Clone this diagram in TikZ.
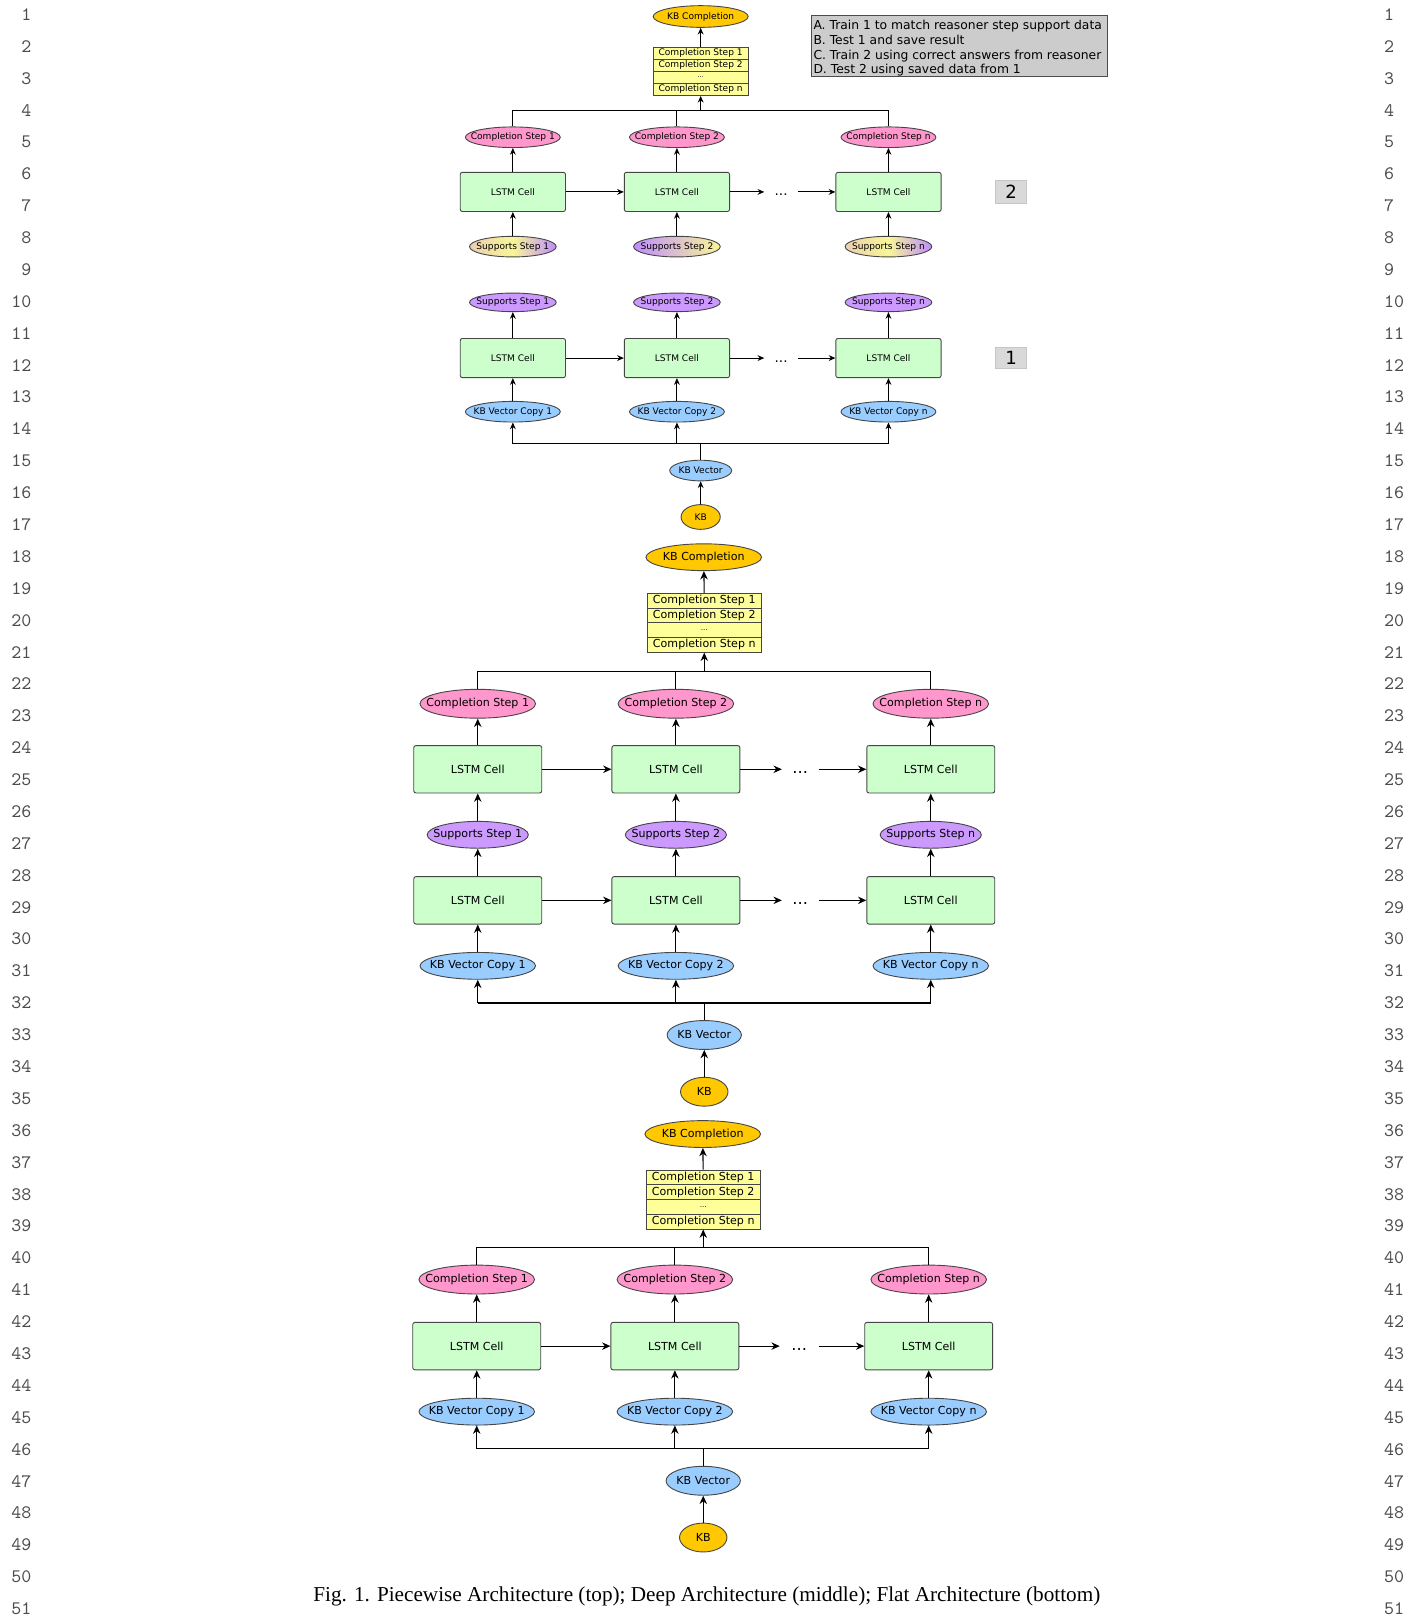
\documentclass[tikz,border=0pt]{standalone}
\usepackage{fontspec}
\setsansfont{DejaVu Sans}
\newfontfamily\capfont{Liberation Serif}
\usetikzlibrary{positioning,shapes.geometric,arrows.meta}
\definecolor{kbgold}{RGB}{255,200,0}
\definecolor{steppink}{RGB}{255,150,204}
\definecolor{suplilac}{RGB}{204,153,255}
\definecolor{vecblue}{RGB}{153,204,255}
\definecolor{cellgreen}{RGB}{204,255,204}
\definecolor{rowyellow}{RGB}{255,255,153}
\definecolor{edgegray}{RGB}{70,70,70}
\definecolor{legendgray}{RGB}{204,204,204}
\definecolor{suptan}{RGB}{236,206,176}
\definecolor{supyellow}{RGB}{248,246,150}
\definecolor{supviolet}{RGB}{192,140,255}
\newdimen\upx
\upx=0.02cm
\newcommand\zw[1]{\makebox[0pt]{#1}}
\tikzset{
  every node/.style={inner sep=0pt},
  wh/.style 2 args={minimum width=#1*\upx, minimum height=#2*\upx},
  oval/.style={ellipse, draw=edgegray, line width=0.5pt},
  kb/.style={oval, fill=kbgold},
  cstep/.style={oval, fill=steppink},
  sstep/.style={oval, fill=suplilac},
  kbvec/.style={oval, fill=vecblue},
  cell/.style={rectangle, draw=edgegray, fill=cellgreen, rounded corners=1.2pt, line width=0.5pt},
  row/.style={rectangle, draw=edgegray, fill=rowyellow, line width=0.5pt},
  numbox/.style={rectangle, fill=gray!30, draw=gray!45, line width=0.6pt},
  link/.style={line width=0.5pt},
  arr/.style={-{Stealth[length=3.7pt,width=3.2pt,inset=1.2pt]}, line width=0.5pt},
  lnum/.style={font=\ttfamily\fontsize{10.5}{12}\selectfont, text=black!70}
}

\begin{document}
\begin{tikzpicture}[x=0.02cm,y=-0.02cm]
  \useasboundingbox (0,0) rectangle (1371,1568);
  \foreach \i in {1,...,51}{
    \node[lnum, anchor=east] (ll\i) at (30.7,{14+(\i-1)*30.9}) {\i};
    \node[lnum, anchor=west] (lr\i) at (1341,{14+(\i-1)*30.9}) {\i};
  }

  \begin{scope}[font=\sffamily\fontsize{5}{6}\selectfont]
  \node[kb, wh={92}{21}] (pkbc) at (679,16) {\zw{KB Completion}};
  \node[row, wh={92}{11.75}] (pr1) at (679,51.4) {Completion Step 1};
  \node[row, wh={92}{11.75}] (pr2) at (679,63.1) {Completion Step 2};
  \node[row, wh={92}{11.75}, font=\sffamily\fontsize{3.5}{4}\selectfont] (pr3) at (679,74.9) {...};
  \node[row, wh={92}{11.75}] (prn) at (679,86.6) {Completion Step n};
  \coordinate (pbus) at (679,107.5);
  \node[cstep, wh={92}{20}] (pc1) at (497,133) {\zw{Completion Step 1}};
  \node[cstep, wh={92}{20}] (pc2) at (656,133) {\zw{Completion Step 2}};
  \node[cstep, wh={92}{20}] (pcn) at (861,133) {\zw{Completion Step n}};
  \node[cell, wh={102}{38}] (pa1) at (497,186) {LSTM Cell};
  \node[cell, wh={102}{38}] (pa2) at (656,186) {LSTM Cell};
  \node[cell, wh={102}{38}] (pan) at (861,186) {LSTM Cell};
  \node[wh={32}{4}, font=\sffamily\fontsize{7.5}{8}\selectfont] (pda) at (757,189) {...};
  \node[oval, left color=suptan, right color=supviolet, middle color=supyellow, wh={84}{20}] (pg1) at (497,239) {\zw{Supports Step 1}};
  \node[oval, left color=supviolet, right color=supyellow, wh={84}{20}] (pg2) at (656,239) {\zw{Supports Step 2}};
  \node[oval, left color=suptan, right color=supviolet, middle color=supyellow, wh={84}{20}] (pgn) at (861,239) {\zw{Supports Step n}};
  \node[numbox, wh={30}{22}, font=\sffamily\fontsize{10}{12}\selectfont] (pn2) at (980,186) {2};
  \node[rectangle, fill=legendgray, draw=gray!60!black, line width=0.6pt, wh={287}{59}] (legend) at (929.5,44.5) {};
  \node[anchor=north west, align=left, font=\sffamily\fontsize{6.8}{8.1}\selectfont] (legendtext) at (788,19.3)
        {A. Train 1 to match reasoner step support data\\B. Test 1 and save result\\C. Train 2 using correct answers from reasoner\\D. Test 2 using saved data from 1};

  \draw[arr] (pr1) -- (pkbc);
  \draw[arr] (pbus) -- (prn);
  \draw[link] (pc1.north) -- (pc1.north |- pbus) -- (pcn.north |- pbus) -- (pcn.north);
  \draw[link] (pc2.north) -- (pc2.north |- pbus);
  \draw[arr] (pa1) -- (pc1);
  \draw[arr] (pa2) -- (pc2);
  \draw[arr] (pan) -- (pcn);
  \draw[arr] (pa1) -- (pa2);
  \draw[arr] (pa2.east) -- (pa2.east -| pda.west);
  \draw[arr] (pan.west -| pda.east) -- (pan.west);
  \draw[arr] (pg1) -- (pa1);
  \draw[arr] (pg2) -- (pa2);
  \draw[arr] (pgn) -- (pan);

  \node[sstep, wh={84}{18}] (ps1) at (497,293) {\zw{Supports Step 1}};
  \node[sstep, wh={84}{18}] (ps2) at (656,293) {\zw{Supports Step 2}};
  \node[sstep, wh={84}{18}] (psn) at (861,293) {\zw{Supports Step n}};
  \node[cell, wh={102}{38}] (pb1) at (497,347) {LSTM Cell};
  \node[cell, wh={102}{38}] (pb2) at (656,347) {LSTM Cell};
  \node[cell, wh={102}{38}] (pbn) at (861,347) {LSTM Cell};
  \node[wh={32}{4}, font=\sffamily\fontsize{7.5}{8}\selectfont] (pdb) at (757,350) {...};
  \node[numbox, wh={30}{21}, font=\sffamily\fontsize{10}{12}\selectfont] (pn1) at (980,347) {1};
  \node[kbvec, wh={92}{20}] (pv1) at (497,399) {\zw{KB Vector Copy 1}};
  \node[kbvec, wh={92}{20}] (pv2) at (656,399) {\zw{KB Vector Copy 2}};
  \node[kbvec, wh={92}{20}] (pvn) at (861,399) {\zw{KB Vector Copy n}};
  \coordinate (pbus2) at (679,430);
  \node[kbvec, wh={60}{20}] (pkbv) at (679,456) {\zw{KB Vector}};
  \node[kb, wh={38}{24}] (pkb) at (679,501) {\zw{KB}};

  \draw[arr] (pb1) -- (ps1);
  \draw[arr] (pb2) -- (ps2);
  \draw[arr] (pbn) -- (psn);
  \draw[arr] (pb1) -- (pb2);
  \draw[arr] (pb2.east) -- (pb2.east -| pdb.west);
  \draw[arr] (pbn.west -| pdb.east) -- (pbn.west);
  \draw[arr] (pv1) -- (pb1);
  \draw[arr] (pv2) -- (pb2);
  \draw[arr] (pvn) -- (pbn);
  \draw[link] (pv1.south |- pbus2) -- (pvn.south |- pbus2);
  \draw[arr] (pv1.south |- pbus2) -- (pv1.south);
  \draw[arr] (pv2.south |- pbus2) -- (pv2.south);
  \draw[arr] (pvn.south |- pbus2) -- (pvn.south);
  \draw[link] (pkbv) -- (pbus2);
  \draw[arr] (pkb) -- (pkbv);
  \end{scope}

  \begin{scope}[font=\sffamily\fontsize{6.1}{7.3}\selectfont,
      arr/.style={-{Stealth[length=4.6pt,width=4.1pt,inset=1.5pt]}, line width=0.6pt},
      link/.style={line width=0.6pt}]
  \node[kb, wh={112}{26}] (dkbc) at (682,540) {\zw{KB Completion}};
  \node[row, wh={111}{14.25}] (dr1) at (682.5,582.1) {Completion Step 1};
  \node[row, wh={111}{14.25}] (dr2) at (682.5,596.4) {Completion Step 2};
  \node[row, wh={111}{14.25}, font=\sffamily\fontsize{4}{5}\selectfont] (dr3) at (682.5,610.6) {...};
  \node[row, wh={111}{14.25}] (drn) at (682.5,624.9) {Completion Step n};
  \coordinate (dbus) at (682.5,651);
  \node[cstep, wh={112}{28}] (dc1) at (463,682) {\zw{Completion Step 1}};
  \node[cstep, wh={112}{28}] (dc2) at (655,682) {\zw{Completion Step 2}};
  \node[cstep, wh={112}{28}] (dcn) at (902,682) {\zw{Completion Step n}};
  \node[cell, wh={124}{46}] (da1) at (463,745.5) {LSTM Cell};
  \node[cell, wh={124}{46}] (da2) at (655,745.5) {LSTM Cell};
  \node[cell, wh={124}{46}] (dan) at (902,745.5) {LSTM Cell};
  \node[wh={35}{4}, font=\sffamily\fontsize{9}{10}\selectfont] (dda) at (775.5,749) {...};
  \node[sstep, wh={98}{26}] (ds1) at (463,809) {\zw{Supports Step 1}};
  \node[sstep, wh={98}{26}] (ds2) at (655,809) {\zw{Supports Step 2}};
  \node[sstep, wh={98}{26}] (dsn) at (902,809) {\zw{Supports Step n}};
  \node[cell, wh={124}{46}] (db1) at (463,872.5) {LSTM Cell};
  \node[cell, wh={124}{46}] (db2) at (655,872.5) {LSTM Cell};
  \node[cell, wh={124}{46}] (dbn) at (902,872.5) {LSTM Cell};
  \node[wh={35}{4}, font=\sffamily\fontsize{9}{10}\selectfont] (ddb) at (775.5,876) {...};
  \node[kbvec, wh={112}{26}] (dv1) at (463,936) {\zw{KB Vector Copy 1}};
  \node[kbvec, wh={112}{26}] (dv2) at (655,936) {\zw{KB Vector Copy 2}};
  \node[kbvec, wh={112}{26}] (dvn) at (902,936) {\zw{KB Vector Copy n}};
  \coordinate (dbus2) at (682.5,972);
  \node[kbvec, wh={72}{28}] (dkbv) at (682.5,1003) {\zw{KB Vector}};
  \node[kb, wh={46}{28}] (dkb) at (682.5,1058) {\zw{KB}};

  \draw[arr] (dr1) -- (dkbc);
  \draw[arr] (dbus) -- (drn);
  \draw[link] (dc1.north) -- (dc1.north |- dbus) -- (dcn.north |- dbus) -- (dcn.north);
  \draw[link] (dc2.north) -- (dc2.north |- dbus);
  \draw[arr] (da1) -- (dc1);
  \draw[arr] (da2) -- (dc2);
  \draw[arr] (dan) -- (dcn);
  \draw[arr] (da1) -- (da2);
  \draw[arr] (da2.east) -- (da2.east -| dda.west);
  \draw[arr] (dan.west -| dda.east) -- (dan.west);
  \draw[arr] (ds1) -- (da1);
  \draw[arr] (ds2) -- (da2);
  \draw[arr] (dsn) -- (dan);
  \draw[arr] (db1) -- (ds1);
  \draw[arr] (db2) -- (ds2);
  \draw[arr] (dbn) -- (dsn);
  \draw[arr] (db1) -- (db2);
  \draw[arr] (db2.east) -- (db2.east -| ddb.west);
  \draw[arr] (dbn.west -| ddb.east) -- (dbn.west);
  \draw[arr] (dv1) -- (db1);
  \draw[arr] (dv2) -- (db2);
  \draw[arr] (dvn) -- (dbn);
  \draw[link] (dv1.south |- dbus2) -- (dvn.south |- dbus2);
  \draw[arr] (dv1.south |- dbus2) -- (dv1.south);
  \draw[arr] (dv2.south |- dbus2) -- (dv2.south);
  \draw[arr] (dvn.south |- dbus2) -- (dvn.south);
  \draw[link] (dkbv) -- (dbus2);
  \draw[arr] (dkb) -- (dkbv);
  \end{scope}

  \begin{scope}[font=\sffamily\fontsize{6.1}{7.3}\selectfont,
      arr/.style={-{Stealth[length=4.6pt,width=4.1pt,inset=1.5pt]}, line width=0.6pt},
      link/.style={line width=0.6pt}]
  \node[kb, wh={112}{26}] (fkbc) at (681,1099) {\zw{KB Completion}};
  \node[row, wh={111}{14.25}] (fr1) at (681.5,1141.1) {Completion Step 1};
  \node[row, wh={111}{14.25}] (fr2) at (681.5,1155.4) {Completion Step 2};
  \node[row, wh={111}{14.25}, font=\sffamily\fontsize{4}{5}\selectfont] (fr3) at (681.5,1169.6) {...};
  \node[row, wh={111}{14.25}] (frn) at (681.5,1183.9) {Completion Step n};
  \coordinate (fbus) at (681.5,1209);
  \node[cstep, wh={112}{28}] (fc1) at (462,1240) {\zw{Completion Step 1}};
  \node[cstep, wh={112}{28}] (fc2) at (654,1240) {\zw{Completion Step 2}};
  \node[cstep, wh={112}{28}] (fcn) at (900,1240) {\zw{Completion Step n}};
  \node[cell, wh={124}{46}] (fa1) at (462,1304.5) {LSTM Cell};
  \node[cell, wh={124}{46}] (fa2) at (654,1304.5) {LSTM Cell};
  \node[cell, wh={124}{46}] (fan) at (900,1304.5) {LSTM Cell};
  \node[wh={37}{4}, font=\sffamily\fontsize{9}{10}\selectfont] (fda) at (774.5,1308) {...};
  \node[kbvec, wh={112}{26}] (fv1) at (462,1368) {\zw{KB Vector Copy 1}};
  \node[kbvec, wh={112}{26}] (fv2) at (654,1368) {\zw{KB Vector Copy 2}};
  \node[kbvec, wh={112}{26}] (fvn) at (900,1368) {\zw{KB Vector Copy n}};
  \coordinate (fbus2) at (681.5,1404);
  \node[kbvec, wh={72}{28}] (fkbv) at (681.5,1435) {\zw{KB Vector}};
  \node[kb, wh={46}{28}] (fkb) at (681.5,1490) {\zw{KB}};

  \draw[arr] (fr1) -- (fkbc);
  \draw[arr] (fbus) -- (frn);
  \draw[link] (fc1.north) -- (fc1.north |- fbus) -- (fcn.north |- fbus) -- (fcn.north);
  \draw[link] (fc2.north) -- (fc2.north |- fbus);
  \draw[arr] (fa1) -- (fc1);
  \draw[arr] (fa2) -- (fc2);
  \draw[arr] (fan) -- (fcn);
  \draw[arr] (fa1) -- (fa2);
  \draw[arr] (fa2.east) -- (fa2.east -| fda.west);
  \draw[arr] (fan.west -| fda.east) -- (fan.west);
  \draw[arr] (fv1) -- (fa1);
  \draw[arr] (fv2) -- (fa2);
  \draw[arr] (fvn) -- (fan);
  \draw[link] (fv1.south |- fbus2) -- (fvn.south |- fbus2);
  \draw[arr] (fv1.south |- fbus2) -- (fv1.south);
  \draw[arr] (fv2.south |- fbus2) -- (fv2.south);
  \draw[arr] (fvn.south |- fbus2) -- (fvn.south);
  \draw[link] (fkbv) -- (fbus2);
  \draw[arr] (fkb) -- (fkbv);
  \end{scope}

  \node[font=\capfont\fontsize{11.7}{14}\selectfont] (caption) at (685,1547)
    {Fig. 1. Piecewise Architecture (top); Deep Architecture (middle); Flat Architecture (bottom)};
\end{tikzpicture}
\end{document}
